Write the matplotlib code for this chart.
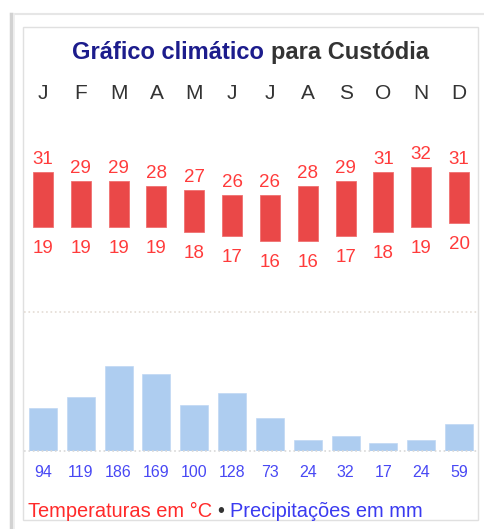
import matplotlib
matplotlib.use('Agg')
import matplotlib.pyplot as plt
import matplotlib.transforms as mtransforms
from matplotlib.patches import Rectangle
from matplotlib.lines import Line2D

months = ['J', 'F', 'M', 'A', 'M', 'J', 'J', 'A', 'S', 'O', 'N', 'D']
temp_max = [31, 29, 29, 28, 27, 26, 26, 28, 29, 31, 32, 31]
temp_min = [19, 19, 19, 19, 18, 17, 16, 16, 17, 18, 19, 20]
precip = [94, 119, 186, 169, 100, 128, 73, 24, 32, 17, 24, 59]

W, H = 485, 529
plt.rcParams['font.family'] = ['Liberation Sans', 'DejaVu Sans']


def fx(px):
    return px / W


def fy(py):
    return 1 - py / H


fig = plt.figure(figsize=(W / 100, H / 100), dpi=100)
fig.patch.set_facecolor('white')

# frame: outer box (light top, shadowed left), inner light border
fig.add_artist(Line2D([fx(11), 1.0], [fy(14), fy(14)], color='#e6e6e6', lw=1.5))
fig.add_artist(Line2D([fx(11.5), fx(11.5)], [fy(14), 0.0], color='#d2d2d2', lw=2.5))
fig.add_artist(Line2D([fx(13.5), fx(13.5)], [fy(14), 0.0], color='#ececec', lw=1.2))
fig.patches.append(Rectangle((fx(23), fy(520)), fx(478) - fx(23), fy(27) - fy(520), transform=fig.transFigure,
                             facecolor='none', edgecolor='#e0e0e0', lw=1, zorder=1))

x = list(range(12))

# temperature panel
ax_t = fig.add_axes([fx(24), fy(314.6), fx(478) - fx(24), fy(28) - fy(314.6)])
ax_t.set_xlim(-0.5, 11.5)
ax_t.set_ylim(0, 62.3)
ax_t.axis('off')
heights = [hi - lo for hi, lo in zip(temp_max, temp_min)]
ax_t.bar(x, heights, bottom=temp_min, width=0.53, color='#ea4848', edgecolor='#f07070', lw=0.6)
for i in x:
    ax_t.annotate(str(temp_max[i]), (i, temp_max[i]), xytext=(0, 5.8), textcoords='offset points',
                  ha='center', va='baseline', fontsize=13.5, color='#ff3b3b')
    ax_t.annotate(str(temp_min[i]), (i, temp_min[i]), xytext=(0, -18.7), textcoords='offset points',
                  ha='center', va='baseline', fontsize=13.5, color='#ff3b3b')

trans_t = mtransforms.blended_transform_factory(ax_t.transData, ax_t.transAxes)
for i, m in enumerate(months):
    ax_t.text(i, (314.6 - 99) / 286.6, m, transform=trans_t, ha='center', va='baseline',
              fontsize=15, color='#333333')

# precipitation panel
ax_p = fig.add_axes([fx(24), fy(451), fx(478) - fx(24), fy(312) - fy(451)])
ax_p.set_xlim(-0.5, 11.5)
ax_p.set_ylim(0, 305)
ax_p.axis('off')
ax_p.bar(x, precip, width=0.74, color='#aecdf0', edgecolor='#c0d8f4', lw=0.5)
ax_p.axhline(305, color='#e4dcd4', ls=':', lw=1.2, clip_on=False)
ax_p.axhline(0, color='#d8d8d8', ls=':', lw=1.2, clip_on=False)
trans_p = mtransforms.blended_transform_factory(ax_p.transData, ax_p.transAxes)
for i in x:
    ax_p.text(i, -(477 - 451) / 139, str(precip[i]), transform=trans_p, ha='center', va='baseline',
              fontsize=11.5, color='#4848f4')

renderer = fig.canvas.get_renderer()

# title in two colours, centred on the panel
t1 = fig.text(0, fy(59), 'Gráfico climático ', fontsize=17, fontweight='bold', color='#1c1c8c', va='baseline')
t2 = fig.text(0, fy(59), 'para Custódia', fontsize=17, fontweight='bold', color='#333333', va='baseline')
w1 = t1.get_window_extent(renderer).width
w2 = t2.get_window_extent(renderer).width
x0 = 250.5 - (w1 + w2) / 2
t1.set_x(fx(x0))
t2.set_x(fx(x0 + w1))

# legend line
parts = [('Temperaturas em °C ', '#ff2a2a'), ('• ', '#333333'), ('Precipitações em mm', '#3a3af0')]
xpos = 28
for txt, col in parts:
    t = fig.text(fx(xpos), fy(517), txt, fontsize=14.4, color=col, va='baseline')
    xpos += t.get_window_extent(renderer).width

fig.savefig('out.png', dpi=100)
